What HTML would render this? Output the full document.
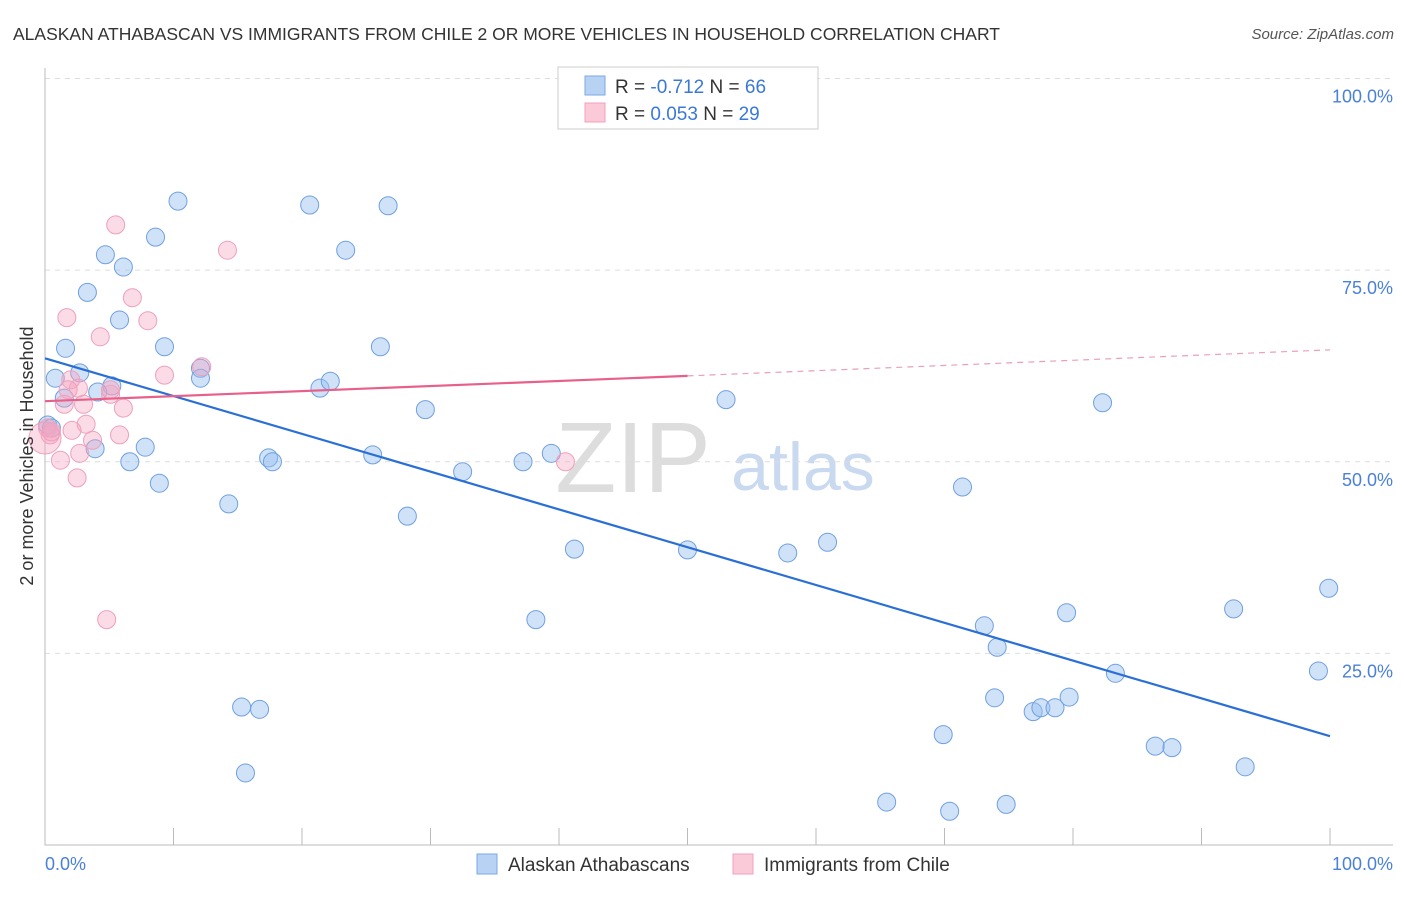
<!DOCTYPE html>
<html><head><meta charset="utf-8"><style>
body{margin:0;background:#fff;font-family:"Liberation Sans",sans-serif}
svg text{font-family:"Liberation Sans",sans-serif}
</style></head><body>
<svg id="chart" width="1406" height="892" xmlns="http://www.w3.org/2000/svg">
<text x="13" y="40" font-size="17.5" fill="#333">ALASKAN ATHABASCAN VS IMMIGRANTS FROM CHILE 2 OR MORE VEHICLES IN HOUSEHOLD CORRELATION CHART</text>
<text x="1394" y="39" font-size="15" fill="#555" text-anchor="end" font-style="italic">Source: ZipAtlas.com</text>
<g>
<text x="633" y="492" font-size="100" fill="#ddd" text-anchor="middle" font-family="Liberation Serif,serif">ZIP</text>
<text x="803" y="490" font-size="68" fill="#c9d9f0" text-anchor="middle">atlas</text>
</g>
<g id="grid"></g>
<g id="axes"></g>
<g id="pts"></g>
<g id="lines"></g>
<text transform="translate(33,456) rotate(-90)" font-size="18" fill="#333" text-anchor="middle">2 or more Vehicles in Household</text>
<text x="45" y="870" font-size="18" fill="#4a80d8">0.0%</text>
<text x="1393" y="870" font-size="18" fill="#4a80d8" text-anchor="end">100.0%</text>
<g>
<rect x="558" y="67" width="260" height="62" fill="#fff" stroke="#ccc"/>
<rect x="585" y="76" width="20" height="19" fill="#b8d2f4" stroke="#7aaae6"/>
<rect x="585" y="103" width="20" height="19" fill="#fbcad9" stroke="#f0a0bc"/>
<text x="615" y="93" font-size="19" fill="#333">R = <tspan fill="#3a78d8">-0.712</tspan>   N = <tspan fill="#3a78d8">66</tspan></text>
<text x="615" y="120" font-size="19" fill="#333">R =  <tspan fill="#3a78d8">0.053</tspan>   N = <tspan fill="#3a78d8">29</tspan></text>
</g>
<g>
<rect x="477" y="854" width="20" height="20" fill="#b8d2f4" stroke="#7aaae6"/>
<text x="508" y="871" font-size="19" fill="#333">Alaskan Athabascans</text>
<rect x="733" y="854" width="20" height="20" fill="#fbcad9" stroke="#f0a0bc"/>
<text x="764" y="871" font-size="19" fill="#333">Immigrants from Chile</text>
</g>
</svg>
<script>
const yTicks=[25,50,75,100];
const yTickLabels=["25.0%","50.0%","75.0%","100.0%"];
const xTicks=[0,10,20,30,40,50,60,70,80,90,100];
const blueX=[10.35,20.6,26.7,8.6,23.4,4.7,6.1,3.3,5.8,1.6,9.3,26.1,0.8,2.7,5.2,12.1,12.1,4.1,21.4,22.2,29.6,53.0,82.3,1.5,3.9,7.8,6.6,17.4,17.7,25.5,32.5,37.2,39.4,8.9,14.3,28.2,71.4,41.2,50.0,57.8,60.9,38.2,73.1,74.1,79.5,92.5,99.9,83.3,99.1,15.3,16.7,73.9,76.9,77.5,78.6,79.7,69.9,86.4,87.7,15.6,93.4,65.5,70.4,74.8,0.2,0.5];
const blueY=[84.0,83.5,83.4,79.3,77.6,77.0,75.4,72.1,68.5,64.8,65.0,65.0,60.9,61.6,59.9,62.2,60.9,59.1,59.6,60.5,56.8,58.1,57.7,58.3,51.7,51.9,50.0,50.5,50.0,50.9,48.7,50.0,51.1,47.2,44.5,42.9,46.7,38.6,38.5,38.1,39.5,29.4,28.6,25.8,30.3,30.8,33.5,22.4,22.7,18.0,17.7,19.2,17.4,17.9,17.9,19.3,14.4,12.9,12.7,9.4,10.2,5.6,4.4,5.3,54.8,54.4];
const pinkX=[5.5,14.2,6.8,1.7,8.0,4.3,12.2,9.3,2.0,2.6,1.8,5.1,1.5,3.0,6.1,3.2,0.2,2.1,3.7,5.8,2.7,1.2,2.5,4.8,40.5,0.4,0.0,0.5,5.1];
const pinkY=[80.9,77.6,71.4,68.8,68.4,66.3,62.4,61.3,60.7,59.6,59.4,58.8,57.5,57.5,57.0,54.9,54.4,54.1,52.8,53.5,51.1,50.2,47.9,29.4,50.0,53.5,53.1,53.9,59.4];
const blueTrend=[[0,63.5],[100,14.2]];
const pinkTrend=[[0,57.9],[50,61.2],[100,64.6]];
const X=v=>45+v*12.85, Y=v=>845-v*7.665;
const NS="http://www.w3.org/2000/svg";
function mk(p,t,a){const e=document.createElementNS(NS,t);for(const k in a)e.setAttribute(k,a[k]);document.getElementById(p).appendChild(e);return e;}
yTicks.forEach((t,i)=>{
 const l=mk('grid','line',{x1:45,x2:1393,y1:Y(t),y2:Y(t),stroke:'#ddd','stroke-dasharray':'5,5'});
 
 
 const tx=mk('grid','text',{x:1393,y:Y(t)+24,'font-size':18,fill:'#4a80d8','text-anchor':'end'});
 tx.textContent=yTickLabels[i];
 
 
});
const ax=mk('axes','path',{d:'M45 68V845H1393',stroke:'#bbb',fill:'none'});


xTicks.forEach(t=>{
 const l=mk('axes','line',{x1:X(t),x2:X(t),y1:828,y2:845,stroke:'#bbb'});
 
 
});
blueX.forEach((v,i)=>{
 const c=mk('pts','circle',{cx:X(v),cy:Y(blueY[i]),r:9,fill:'rgba(150,190,240,0.45)',stroke:'#6fa0e0','stroke-width':1});
 
 
});
pinkX.forEach((v,i)=>{
 const c=mk('pts','circle',{cx:X(v),cy:Y(pinkY[i]),r:i==26?16:9,fill:'rgba(245,165,192,0.4)',stroke:'#eea0bb','stroke-width':1});
 
 
});
const bl=mk('lines','line',{x1:X(blueTrend[0][0]),y1:Y(blueTrend[0][1]),x2:X(blueTrend[1][0]),y2:Y(blueTrend[1][1]),stroke:'#2a6fd6','stroke-width':2.2});


const pl=mk('lines','line',{x1:X(pinkTrend[0][0]),y1:Y(pinkTrend[0][1]),x2:X(pinkTrend[1][0]),y2:Y(pinkTrend[1][1]),stroke:'#e8608a','stroke-width':2.2});


const pd=mk('lines','line',{x1:X(pinkTrend[1][0]),y1:Y(pinkTrend[1][1]),x2:X(pinkTrend[2][0]),y2:Y(pinkTrend[2][1]),stroke:'#e8a0b8','stroke-width':1.2,'stroke-dasharray':'6,5'});


</script>
</body></html>
